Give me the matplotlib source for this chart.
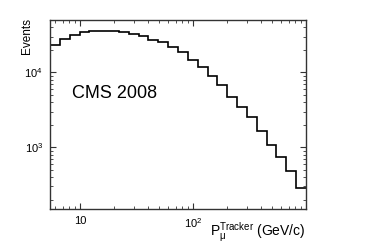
import numpy as np
import matplotlib
matplotlib.use('Agg')
import matplotlib.pyplot as plt
from matplotlib.ticker import FixedLocator, FixedFormatter, LogLocator, NullFormatter

plt.rcParams['font.family'] = ['Liberation Sans', 'DejaVu Sans']
plt.rcParams['mathtext.fontset'] = 'custom'
plt.rcParams['mathtext.rm'] = 'Liberation Sans'
plt.rcParams['mathtext.it'] = 'Liberation Sans:italic'
plt.rcParams['mathtext.sf'] = 'Liberation Sans'

# histogram: 26 log-spaced bins from ~5.4 to 1000 GeV/c
p_min = 5.4
p_max = 1000.0
n_bins = 26
events = [23400, 28100, 31800, 34900, 36000, 36000, 35600, 34500, 32800,
          30200, 27300, 25100, 22100, 18500, 14800, 11900, 9040, 6860,
          4640, 3410, 2510, 1650, 1060, 743, 489, 286]

x_major = [10, 100]
x_major_labels = ['10', r'$10^2$']
y_major = [1e3, 1e4]
y_major_labels = [r'$10^3$', r'$10^4$']

edges = np.logspace(np.log10(p_min), np.log10(p_max), n_bins + 1)

fig = plt.figure(figsize=(3.74, 2.5), dpi=100)
ax = fig.add_axes([50/374, 41/250, 256/374, 189/250])

ax.stairs(events, edges, color='black', linewidth=1.2, baseline=None)

ax.set_xscale('log')
ax.set_yscale('log')
ax.set_xlim(p_min, p_max)
ax.set_ylim(150, 5e4)

ax.xaxis.set_major_locator(FixedLocator(x_major))
ax.xaxis.set_major_formatter(FixedFormatter(x_major_labels))
ax.xaxis.set_minor_locator(LogLocator(base=10, subs=np.arange(2, 10)))
ax.xaxis.set_minor_formatter(NullFormatter())
ax.yaxis.set_major_locator(FixedLocator(y_major))
ax.yaxis.set_major_formatter(FixedFormatter(y_major_labels))
ax.yaxis.set_minor_locator(LogLocator(base=10, subs=np.arange(2, 10)))
ax.yaxis.set_minor_formatter(NullFormatter())

ax.tick_params(which='both', direction='in', top=True, right=True,
               color='#333333', labelsize=8, pad=5)
ax.tick_params(which='major', length=4.5, width=0.8)
ax.tick_params(which='minor', length=2.2, width=0.6)
for s in ax.spines.values():
    s.set_color('#333333')
    s.set_linewidth(1.0)

ax.text(72.5/374, 1 - 94/250, 'CMS 2008', transform=fig.transFigure,
        fontsize=13, ha='left', va='center')

fig.text(27/374, 1 - 18/250, 'Events', rotation=90, fontsize=8.5,
         ha='center', va='top')
fig.text(306/374, 1 - 236/250, r'P$_{\mathrm{μ}}^{\mathrm{Tracker}}$ (GeV/c)',
         fontsize=10, ha='right', va='baseline')

fig.savefig('out.png', dpi=100)
